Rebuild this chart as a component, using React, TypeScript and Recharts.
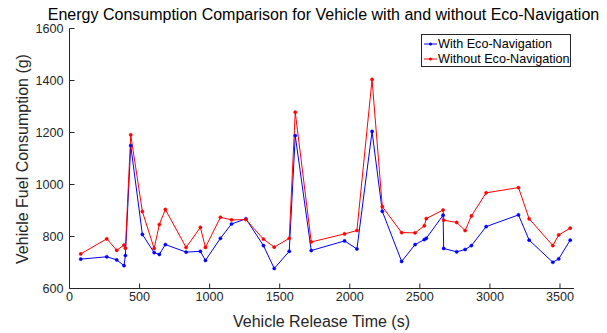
import React from 'react';
import { LineChart, Line, XAxis, YAxis, Legend, Customized } from 'recharts';

const releaseTimes = [80, 266, 337, 389, 399, 437, 520, 604, 641, 684, 832, 934, 970, 1077, 1156, 1259, 1384, 1461, 1568, 1611, 1725, 1963, 2051, 2159, 2232, 2370, 2466, 2532, 2546, 2666, 2670, 2763, 2823, 2868, 2973, 3204, 3280, 3449, 3491, 3573];
const withEco = [713, 722, 710, 688, 727, 1150, 808, 738, 731, 769, 740, 743, 708, 793, 848, 868, 765, 677, 743, 1188, 746, 783, 752, 1204, 897, 704, 769, 788, 793, 882, 754, 741, 750, 765, 838, 883, 786, 701, 714, 786];
const withoutEco = [733, 791, 747, 767, 755, 1191, 896, 754, 846, 904, 758, 835, 758, 874, 864, 865, 790, 759, 793, 1278, 779, 810, 823, 1404, 915, 815, 814, 841, 869, 902, 863, 854, 823, 879, 968, 988, 868, 765, 806, 832];
const xTicks = [0, 500, 1000, 1500, 2000, 2500, 3000, 3500];
const yTicks = [600, 800, 1000, 1200, 1400, 1600];
const seriesNames = ['With Eco-Navigation', 'Without Eco-Navigation'];
const seriesColors = ['#0000FF', '#FF0000'];
const titleText = 'Energy Consumption Comparison for Vehicle with and without Eco-Navigation';
const xLabel = 'Vehicle Release Time (s)';
const yLabel = 'Vehicle Fuel Consumption (g)';

const data = releaseTimes.map((t, i) => ({ t, withEco: withEco[i], withoutEco: withoutEco[i] }));

const FONT = '"Liberation Sans", Arial, Helvetica, sans-serif';
const AX = '#262626';

const Texts = () => (
  <g fontFamily={FONT} fill="#000">
    <text x={323.5} y={20} textAnchor="middle" fontSize={16}>{titleText}</text>
    <text x={321.5} y={327} textAnchor="middle" fontSize={16} fill={AX}>{xLabel}</text>
    <text x={28} y={159} textAnchor="middle" fontSize={16} fill={AX} transform="rotate(-90 28 159)">{yLabel}</text>
  </g>
);

const LegendBox = () => (
  <div style={{ width: 150, height: 33, boxSizing: 'border-box', border: '1px solid #262626', background: '#fff', fontFamily: FONT, fontSize: 12.6, color: '#000', padding: '2px 0 0 2px' }}>
    {seriesNames.map((n, i) => (
      <div key={n} style={{ display: 'flex', alignItems: 'center', height: 14.5, whiteSpace: 'nowrap' }}>
        <svg width={13} height={10} style={{ marginRight: 1 }}>
          <line x1={0} y1={5} x2={13} y2={5} stroke={seriesColors[i]} strokeWidth={1} />
          <circle cx={6.5} cy={5} r={1.6} fill={seriesColors[i]} />
        </svg>
        <span>{n}</span>
      </div>
    ))}
  </div>
);

export default function App() {
  return (
    <div style={{ position: 'absolute', left: 0, top: 0, width: 607, height: 333, background: '#fff' }}>
      <LineChart width={607} height={333} data={data} margin={{ top: 28.5, right: 33, bottom: 0, left: 19.5 }}>
        <XAxis xAxisId="b" dataKey="t" type="number" domain={[0, 3600]} ticks={xTicks} allowDataOverflow
          height={44.5} tickSize={-5} tickMargin={9} stroke={AX} tickLine={{ stroke: AX }}
          tick={{ fill: AX, fontSize: 12.6, fontFamily: FONT }} interval={0} />
        <XAxis xAxisId="top" orientation="top" dataKey="t" type="number" domain={[0, 3600]} ticks={xTicks} allowDataOverflow
          height={0} tickSize={-5} stroke={AX} tickFormatter={() => ''} interval={0} />
        <YAxis yAxisId="l" type="number" domain={[600, 1600]} ticks={yTicks} allowDataOverflow
          width={50} tickSize={-5} tickMargin={11} stroke={AX}
          tick={{ fill: AX, fontSize: 12.6, fontFamily: FONT }} interval={0} />
        <YAxis yAxisId="r" orientation="right" type="number" domain={[600, 1600]} ticks={yTicks} allowDataOverflow
          width={0} tickSize={-5} stroke={AX} tickFormatter={() => ''} interval={0} />
        <Line xAxisId="b" yAxisId="l" dataKey="withEco" name={seriesNames[0]} stroke={seriesColors[0]} strokeWidth={1}
          dot={{ r: 1.6, fill: seriesColors[0], stroke: seriesColors[0], strokeWidth: 0.5 }} isAnimationActive={false} />
        <Line xAxisId="b" yAxisId="l" dataKey="withoutEco" name={seriesNames[1]} stroke={seriesColors[1]} strokeWidth={1}
          dot={{ r: 1.6, fill: seriesColors[1], stroke: seriesColors[1], strokeWidth: 0.5 }} isAnimationActive={false} />
        <Line xAxisId="top" yAxisId="r" dataKey="withEco" stroke="none" dot={false} legendType="none" isAnimationActive={false} />
        <Legend layout="horizontal" verticalAlign="middle" align="center" content={() => <LegendBox />}
          wrapperStyle={{ left: 421, top: 34, width: 150, height: 33 }} />
        <Customized component={Texts} />
      </LineChart>
    </div>
  );
}
